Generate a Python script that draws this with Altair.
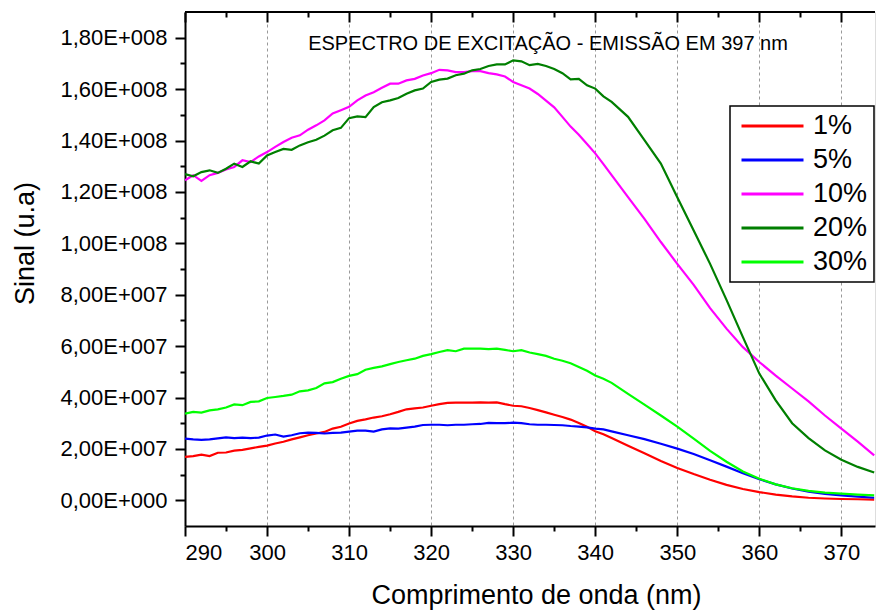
import altair as alt
import pandas as pd

# wavelength grid (nm): 1 nm up to 341, then 2 nm steps
wavelength = list(range(290, 342)) + list(range(342, 375, 2))

# signal values in units of 1e7 (u.a)
s1 = [1.69, 1.72, 1.78, 1.72, 1.85, 1.86, 1.93, 1.96, 2.02, 2.08,
      2.13, 2.21, 2.28, 2.37, 2.45, 2.53, 2.60, 2.66, 2.79, 2.86,
      2.99, 3.09, 3.15, 3.22, 3.27, 3.35, 3.44, 3.54, 3.58, 3.61,
      3.68, 3.74, 3.79, 3.80, 3.80, 3.80, 3.81, 3.80, 3.81, 3.74,
      3.68, 3.66, 3.59, 3.51, 3.42, 3.33, 3.24, 3.14, 3.01, 2.86,
      2.69, 2.57,
      2.42, 2.12, 1.83, 1.53, 1.26, 1.02, 0.80, 0.60, 0.44, 0.32, 0.22, 0.15, 0.10, 0.07, 0.05, 0.04, 0.03]
s5 = [2.40, 2.37, 2.35, 2.37, 2.41, 2.45, 2.42, 2.44, 2.42, 2.44,
      2.52, 2.56, 2.48, 2.53, 2.61, 2.63, 2.62, 2.60, 2.62, 2.63,
      2.67, 2.71, 2.71, 2.67, 2.76, 2.80, 2.79, 2.83, 2.87, 2.93,
      2.94, 2.94, 2.92, 2.94, 2.94, 2.96, 2.97, 3.01, 3.00, 3.00,
      3.02, 3.00, 2.96, 2.94, 2.94, 2.93, 2.92, 2.89, 2.87, 2.84,
      2.79, 2.76,
      2.68, 2.53, 2.38, 2.20, 2.01, 1.80, 1.56, 1.31, 1.05, 0.82, 0.62, 0.46, 0.34, 0.25, 0.19, 0.14, 0.10]
s10 = [12.45, 12.65, 12.43, 12.65, 12.74, 12.87, 12.97, 13.23, 13.16, 13.38,
       13.55, 13.75, 13.94, 14.11, 14.20, 14.42, 14.59, 14.78, 15.05, 15.18,
       15.31, 15.56, 15.75, 15.88, 16.05, 16.21, 16.21, 16.34, 16.40, 16.53,
       16.62, 16.75, 16.73, 16.66, 16.66, 16.70, 16.70, 16.62, 16.57, 16.49,
       16.28, 16.15, 16.02, 15.81, 15.55, 15.29, 14.92, 14.54, 14.22, 13.86,
       13.50, 13.08,
       12.65, 11.80, 10.95, 10.05, 9.20, 8.38, 7.48, 6.68, 5.96, 5.38, 4.85, 4.35, 3.85, 3.30, 2.79, 2.28, 1.75]
s20 = [12.69, 12.61, 12.77, 12.84, 12.74, 12.90, 13.10, 12.97, 13.19, 13.10,
       13.42, 13.55, 13.67, 13.64, 13.81, 13.93, 14.03, 14.19, 14.40, 14.49,
       14.87, 14.94, 14.91, 15.30, 15.49, 15.56, 15.65, 15.82, 15.95, 16.02,
       16.28, 16.37, 16.41, 16.54, 16.60, 16.73, 16.78, 16.90, 16.96, 16.96,
       17.12, 17.08, 16.93, 16.98, 16.90, 16.78, 16.62, 16.38, 16.40, 16.15,
       16.02, 15.72,
       15.50, 14.92, 14.01, 13.10, 11.79, 10.50, 9.20, 7.80, 6.35, 4.93, 3.89, 3.00, 2.42, 1.94, 1.58, 1.30, 1.08]
s30 = [3.37, 3.44, 3.41, 3.50, 3.54, 3.61, 3.73, 3.70, 3.83, 3.85,
       3.98, 4.02, 4.06, 4.11, 4.24, 4.28, 4.37, 4.55, 4.60, 4.73,
       4.84, 4.91, 5.08, 5.15, 5.21, 5.30, 5.38, 5.45, 5.51, 5.62,
       5.69, 5.77, 5.84, 5.80, 5.90, 5.90, 5.90, 5.88, 5.90, 5.85,
       5.80, 5.84, 5.75, 5.69, 5.62, 5.51, 5.43, 5.33, 5.19, 5.04,
       4.86, 4.73,
       4.57, 4.14, 3.72, 3.30, 2.87, 2.40, 1.92, 1.50, 1.12, 0.84, 0.62, 0.47, 0.37, 0.30, 0.26, 0.22, 0.19]

series_names = ["1%", "5%", "10%", "20%", "30%"]
series_colors = ["#FF0000", "#0000FF", "#FF00FF", "#007F00", "#00FF00"]
series_values = [s1, s5, s10, s20, s30]

x_major = [290, 300, 310, 320, 330, 340, 350, 360, 370]
x_minor = [295, 305, 315, 325, 335, 345, 355, 365]
y_major = [0, 2e7, 4e7, 6e7, 8e7, 1e8, 1.2e8, 1.4e8, 1.6e8, 1.8e8]
y_minor = [1e7, 3e7, 5e7, 7e7, 9e7, 1.1e8, 1.3e8, 1.5e8, 1.7e8]

title_text = "ESPECTRO DE EXCITAÇÃO - EMISSÃO EM 397 nm"

rows = []
for name, vals in zip(series_names, series_values):
    for w, v in zip(wavelength, vals):
        rows.append({"wl": w, "val": v * 1e7, "serie": name})
df = pd.DataFrame(rows)

FONT = "Liberation Sans"
xscale = alt.Scale(domain=[290, 374.1], nice=False, zero=False)
yscale = alt.Scale(domain=[-1.0e7, 1.9e8], nice=False, zero=False)

ylabel_expr = ("datum.value == 0 ? '0,00E+000' : (abs(datum.value) < 1e8 ? "
               "replace(format(datum.value/1e7, '.2f'), '.', ',') + 'E+007' : "
               "replace(format(datum.value/1e8, '.2f'), '.', ',') + 'E+008')")

base = alt.Chart(df)

lines = base.mark_line(strokeWidth=2.2, clip=True).encode(
    x=alt.X("wl:Q", scale=xscale, axis=alt.Axis(
        orient="bottom", values=x_major, format="d", tickSize=10, tickWidth=2, tickColor="black",
        domainWidth=2, domainColor="black", labelFontSize=22, labelFont=FONT, labelColor="black",
        labelPadding=6, grid=True, gridDash=[3, 3], gridColor="#999999", gridWidth=1,
        title="Comprimento de onda (nm)", titleFontSize=27, titleFont=FONT, titleFontWeight="normal",
        titleColor="black", titleX=351, titleY=77, titleAlign="center", titleBaseline="alphabetic")),
    y=alt.Y("val:Q", scale=yscale, axis=alt.Axis(
        orient="left", values=y_major, labelExpr=ylabel_expr, tickSize=10, tickWidth=2, tickColor="black",
        domainWidth=2, domainColor="black", labelFontSize=22, labelFont=FONT, labelColor="black",
        labelPadding=8, grid=False, title="Sinal (u.a)", titleFontSize=27, titleFont=FONT,
        titleFontWeight="normal", titleColor="black", titleX=-160, titleY=231, titleAngle=270,
        titleAlign="center", titleBaseline="middle")),
    color=alt.Color("serie:N", scale=alt.Scale(domain=series_names, range=series_colors),
                    sort=series_names, legend=alt.Legend(title=None)),
)

minor = base.mark_line(strokeOpacity=0).encode(
    x=alt.X("wl:Q", scale=xscale, axis=alt.Axis(
        orient="bottom", values=x_minor, labels=False, domain=False, grid=False, tickSize=5,
        tickWidth=2, tickColor="black", title=None)),
    y=alt.Y("val:Q", scale=yscale, axis=alt.Axis(
        orient="left", values=y_minor, labels=False, domain=False, grid=False, tickSize=5,
        tickWidth=2, tickColor="black", title=None)),
)

top_major = base.mark_line(strokeOpacity=0).encode(
    x=alt.X("wl:Q", scale=xscale, axis=alt.Axis(
        orient="top", offset=-10, values=x_major, labels=False, domain=False, grid=False,
        tickSize=10, tickWidth=2, tickColor="black", title=None)),
    y=alt.Y("val:Q", scale=yscale, axis=None),
)

top_minor = base.mark_line(strokeOpacity=0).encode(
    x=alt.X("wl:Q", scale=xscale, axis=alt.Axis(
        orient="top", offset=-5, values=x_minor, labels=False, domain=False, grid=False,
        tickSize=5, tickWidth=2, tickColor="black", title=None)),
    y=alt.Y("val:Q", scale=yscale, axis=None),
)

top_border = alt.Chart(pd.DataFrame({"k": [0]})).mark_rule(color="black", strokeWidth=2).encode(
    x=alt.value(0), x2=alt.value(690), y=alt.value(0)
)

title_mark = alt.Chart(pd.DataFrame({"t": [title_text]})).mark_text(
    font=FONT, fontSize=20, color="black", align="center", baseline="alphabetic"
).encode(x=alt.value(363), y=alt.value(37.5), text="t:N")

chart = alt.layer(lines, minor, top_major, top_minor, top_border, title_mark).resolve_axis(
    x="independent", y="independent"
).properties(
    width=690, height=514,
    padding={"left": 185, "top": 12, "right": 1, "bottom": 86},
    autosize=alt.AutoSizeParams(type="none"),
).configure_view(stroke=None).configure(font=FONT).configure_legend(
    orient="none", legendX=545, legendY=94, padding=6, strokeColor="black", strokeWidth=1.5,
    fillColor="white", labelFontSize=27, labelFont=FONT, labelColor="black",
    symbolType="stroke", symbolSize=3844, symbolStrokeWidth=3, clipHeight=28, rowPadding=6,
    labelOffset=8, symbolOffset=4,
)

chart.save("out.html", embed_options={"renderer": "svg", "actions": False})
